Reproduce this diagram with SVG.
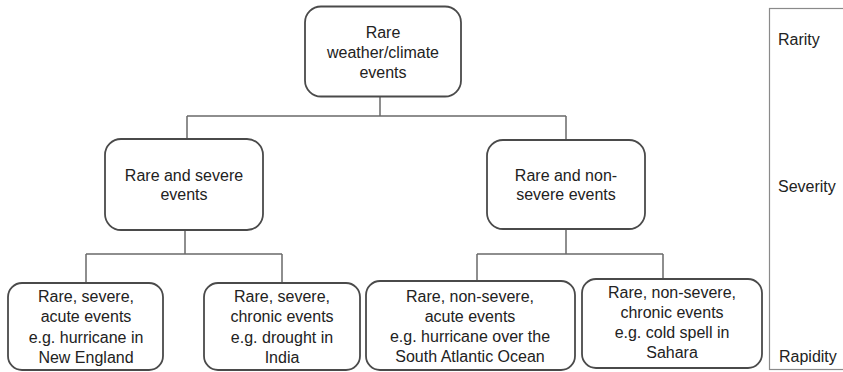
<svg xmlns="http://www.w3.org/2000/svg" width="843" height="372" viewBox="0 0 843 372">
<style>
.box{fill:#fff;stroke:#4a4a4a;stroke-width:1.8}
.t{font-family:"Liberation Sans",Arial,sans-serif;font-size:16px;fill:#222;text-anchor:middle}
.lab{font-family:"Liberation Sans",Arial,sans-serif;font-size:16px;fill:#222}
.c{fill:none;stroke:#6a6a6a;stroke-width:1.5}
</style>
<rect width="843" height="372" fill="#fff"/>
<g id="connectors">
<path class="c" d="M380,97 V116 M187,116 H566 M187,116 V139 M566,116 V140"/>
<path class="c" d="M185,230 V254 M86,254 H282 M86,254 V283 M282,254 V283"/>
<path class="c" d="M566,229 V254 M477,254 H663 M477,254 V281 M663,254 V279"/>
</g>
<g id="scale">
<rect x="769.5" y="8.5" width="80" height="361" fill="none" stroke="#8a8a8a" stroke-width="1.2"/>
<text class="lab" x="778" y="45">Rarity</text>
<text class="lab" x="778" y="192">Severity</text>
<text class="lab" x="779" y="362">Rapidity</text>
</g>
<g id="n-root">
<rect class="box" x="305" y="6.5" width="156" height="90" rx="16"/>
<text class="t" x="383" y="38">Rare</text>
<text class="t" x="383" y="58">weather/climate</text>
<text class="t" x="383" y="78">events</text>
</g>
<g id="n-severe">
<rect class="box" x="105" y="139" width="158" height="91" rx="16"/>
<text class="t" x="184" y="181">Rare and severe</text>
<text class="t" x="184" y="200">events</text>
</g>
<g id="n-nonsevere">
<rect class="box" x="487" y="140" width="158" height="89" rx="16"/>
<text class="t" x="566" y="181">Rare and non-</text>
<text class="t" x="566" y="200">severe events</text>
</g>
<g id="n-sev-acute">
<rect class="box" x="8" y="283" width="155" height="87" rx="14"/>
<text class="t" x="86" y="302">Rare, severe,</text>
<text class="t" x="86" y="322">acute events</text>
<text class="t" x="86" y="343">e.g. hurricane in</text>
<text class="t" x="86" y="363">New England</text>
</g>
<g id="n-sev-chronic">
<rect class="box" x="204" y="283" width="156" height="87" rx="14"/>
<text class="t" x="282" y="302">Rare, severe,</text>
<text class="t" x="282" y="322">chronic events</text>
<text class="t" x="282" y="343">e.g. drought in</text>
<text class="t" x="282" y="363">India</text>
</g>
<g id="n-non-acute">
<rect class="box" x="366" y="281" width="209" height="89" rx="14"/>
<text class="t" x="470" y="302">Rare, non-severe,</text>
<text class="t" x="470" y="322">acute events</text>
<text class="t" x="470" y="342">e.g. hurricane over the</text>
<text class="t" x="470" y="362">South Atlantic Ocean</text>
</g>
<g id="n-non-chronic">
<rect class="box" x="582" y="279" width="180" height="89" rx="14"/>
<text class="t" x="672" y="298">Rare, non-severe,</text>
<text class="t" x="672" y="318">chronic events</text>
<text class="t" x="672" y="338">e.g. cold spell in</text>
<text class="t" x="672" y="358">Sahara</text>
</g>
</svg>
